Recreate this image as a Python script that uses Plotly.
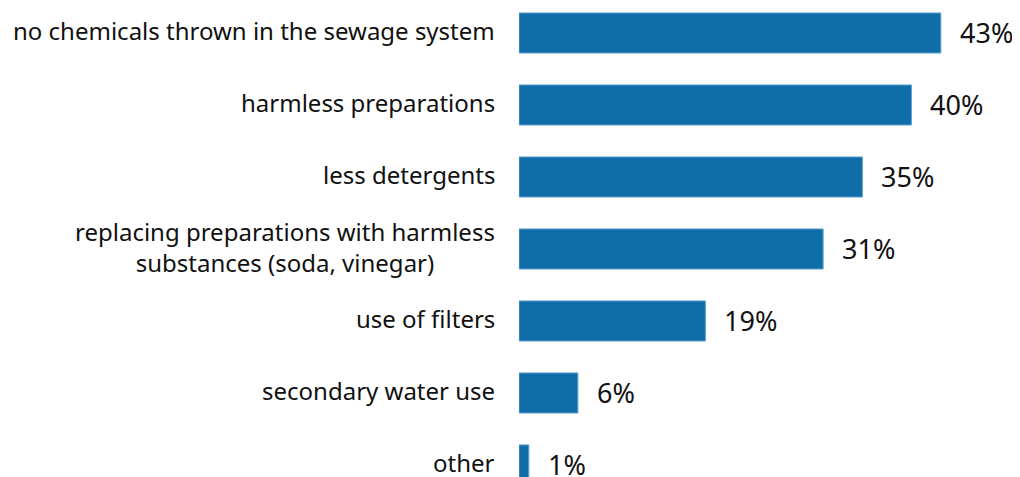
import plotly.graph_objects as go

categories = [
    "no chemicals thrown in the sewage system",
    "harmless preparations",
    "less detergents",
    "replacing preparations with harmless<br>substances (soda, vinegar)",
    "use of filters",
    "secondary water use",
    "other",
]
values = [43, 40, 35, 31, 19, 6, 1]
value_labels = ["43%", "40%", "35%", "31%", "19%", "6%", "1%"]

FONT = "Noto Sans"
BAR = "#0F6EA8"

fig = go.Figure()
fig.add_trace(go.Bar(
    x=values,
    y=categories,
    orientation="h",
    marker=dict(color=BAR, line=dict(color="#5A9FD0", width=1)),
    hoverinfo="skip",
))

annotations = []
for c, v, t in zip(categories, values, value_labels):
    annotations.append(dict(
        x=v, y=c, xref="x", yref="y", text=t, showarrow=False,
        xanchor="left", yanchor="middle", xshift=17, yshift=0,
        font=dict(family=FONT, size=27, color="#111111"),
    ))
    annotations.append(dict(
        x=0, y=c, xref="paper", yref="y", text=c, showarrow=False,
        xanchor="right", yanchor="middle", xshift=-22, yshift=2, align="center",
        font=dict(family=FONT, size=24, color="#111111"),
    ))

fig.update_layout(
    width=1012, height=469,
    margin=dict(l=511, r=0, t=0, b=0),
    paper_bgcolor="white", plot_bgcolor="white",
    bargap=0.444,
    showlegend=False,
    annotations=annotations,
    xaxis=dict(range=[0, 51.07], visible=False, fixedrange=True),
    yaxis=dict(range=[6.167, -0.347], showticklabels=False, showgrid=False,
               zeroline=False, showline=False, ticks=""),
)

fig.write_html("out.html")
